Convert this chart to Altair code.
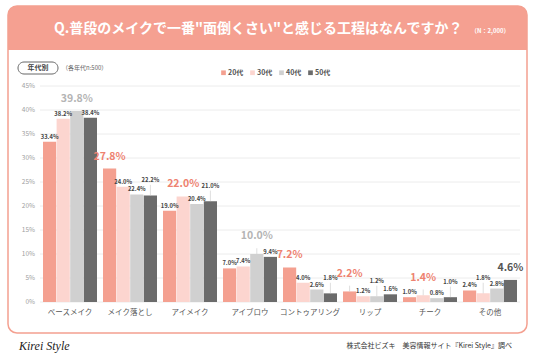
import altair as alt
import pandas as pd

categories = ["ベースメイク", "メイク落とし", "アイメイク", "アイブロウ", "コントゥアリング", "リップ", "チーク", "その他"]
series = ["20代", "30代", "40代", "50代"]
v20 = [33.4, 27.8, 19.0, 7.0, 7.2, 2.2, 1.0, 2.4]
v30 = [38.2, 24.0, 22.0, 7.4, 4.0, 1.2, 1.4, 1.8]
v40 = [39.8, 22.4, 20.4, 10.0, 2.6, 1.2, 0.8, 2.8]
v50 = [38.4, 22.2, 21.0, 9.4, 1.8, 1.6, 1.0, 4.6]
y_ticks = [0, 5, 10, 15, 20, 25, 30, 35, 40, 45]

title_text = "Q.普段のメイクで一番\"面倒くさい\"と感じる工程はなんですか？"
n_text = "（N：2,000）"
group_text = "年代別"
sub_text = "（各年代n:500）"
footer_text = "株式会社ビズキ　美容情報サイト『Kirei Style』調べ"
logo_text = "Kirei Style"

bar_colors = ["#f4a090", "#fcd5cf", "#d0d0d0", "#6b6b6b"]
big_colors = ["#ee8270", "#ee8270", "#b4b4b4", "#555555"]
FONT = "Noto Sans CJK JP"

rows = []
for s, vals in zip(series, [v20, v30, v40, v50]):
    for c, v in zip(categories, vals):
        rows.append({"cat": c, "series": s, "value": v})
df = pd.DataFrame(rows)
tick_df = pd.DataFrame({"t": y_ticks})
cat_df = pd.DataFrame({"cat": categories})

W, H = 480, 216

x_scale = alt.Scale(domain=categories, paddingInner=0.1, paddingOuter=0.05)
x_plain = alt.X("cat:N", sort=categories, title=None, scale=x_scale, axis=None)
xo_enc = alt.XOffset("series:N", sort=series, scale=alt.Scale(domain=series, paddingInner=0.03))
y_scale = alt.Scale(domain=[0, 45], nice=False)

CLOSE = 1.3
base = alt.Chart(df).transform_joinaggregate(
    maxv="max(value)", groupby=["cat"]
).transform_calculate(
    ismax="datum.value == datum.maxv ? 1 : 0"
).transform_window(
    window=[
        {"op": "lag", "field": "value", "param": 1, "as": "prev"},
        {"op": "lag", "field": "value", "param": 2, "as": "prev2"},
        {"op": "lead", "field": "value", "param": 1, "as": "next"},
        {"op": "lag", "field": "ismax", "param": 1, "as": "pmax"},
        {"op": "lag", "field": "ismax", "param": 2, "as": "p2max"},
        {"op": "lead", "field": "ismax", "param": 1, "as": "nmax"},
    ],
    groupby=["cat"], sort=[alt.SortField("series")]
).transform_calculate(
    c1=f"datum.prev != null && abs(datum.value - datum.prev) < {CLOSE} && datum.pmax == 0 && datum.ismax == 0 && datum.nmax != 1",
    c2=f"datum.prev2 != null && abs(datum.prev - datum.prev2) < {CLOSE} && datum.p2max == 0 && datum.pmax == 0",
    bigclose=f"datum.ismax == 1 && ((datum.prev != null && abs(datum.value - datum.prev) < {CLOSE}) || (datum.next != null && abs(datum.value - datum.next) < {CLOSE}))",
).transform_calculate(
    lift="datum.c1 && !datum.c2 ? 1 : 0"
).transform_calculate(
    ly="datum.value + datum.lift * 2.2",
    by="datum.value + (datum.bigclose ? 1.2 : 0)",
    label="format(datum.value, '.1f') + '%'"
)

one = pd.DataFrame({"a": [0]})

# decorations
frame = alt.Chart(one).mark_rect(fill="white", fillOpacity=0, stroke="#f4a090", strokeWidth=1.5,
                                 cornerRadius=9).encode(
    x=alt.value(-32), x2=alt.value(487), y=alt.value(-80), y2=alt.value(247))
band = alt.Chart(one).mark_rect(fill="#f5a091", cornerRadiusTopLeft=9, cornerRadiusTopRight=9).encode(
    x=alt.value(-32), x2=alt.value(487), y=alt.value(-80), y2=alt.value(-36))
title = alt.Chart(one).mark_text(text=title_text, font=FONT, fontSize=14, fontWeight="bold",
                                  color="white", align="left", baseline="middle").encode(
    x=alt.value(14), y=alt.value(-57))
ntext = alt.Chart(one).mark_text(text=n_text, font=FONT, fontSize=6, fontWeight="bold",
                                 color="white", align="left", baseline="middle").encode(
    x=alt.value(431), y=alt.value(-55))
pill = alt.Chart(one).mark_rect(fill="white", stroke="#666666", strokeWidth=1, cornerRadius=6).encode(
    x=alt.value(-22), x2=alt.value(18), y=alt.value(-24), y2=alt.value(-12))
pill_text = alt.Chart(one).mark_text(text=group_text, font=FONT, fontSize=7, fontWeight="bold",
                                     color="#444444", align="center", baseline="middle").encode(
    x=alt.value(-2), y=alt.value(-18))
sub = alt.Chart(one).mark_text(text=sub_text, font=FONT, fontSize=6, color="#666666",
                               align="left", baseline="middle").encode(
    x=alt.value(22), y=alt.value(-18))
footer = alt.Chart(one).mark_text(text=footer_text, font=FONT, fontSize=7, color="#333333",
                                  align="right", baseline="middle").encode(
    x=alt.value(472), y=alt.value(260))
logo = alt.Chart(one).mark_text(text=logo_text, font="Liberation Serif", fontSize=12,
                                fontStyle="italic", color="#222222",
                                align="left", baseline="middle").encode(
    x=alt.value(-21), y=alt.value(260))

# axes drawn from tick and category lists through the shared scales
grid = alt.Chart(tick_df).mark_rule(color="#ececec", strokeWidth=1).encode(
    y=alt.Y("t:Q", scale=y_scale, axis=None), x=alt.value(0), x2=alt.value(W))
ylabels = alt.Chart(tick_df).transform_calculate(tl="datum.t + '%'").mark_text(
    font=FONT, fontSize=6.5, color="#a0a0a0", align="right", baseline="middle").encode(
    y=alt.Y("t:Q", scale=y_scale, axis=None), x=alt.value(-5), text="tl:N")
xlabels = alt.Chart(cat_df).mark_text(
    font=FONT, fontSize=7.5, color="#555555", align="center", baseline="middle").encode(
    x=x_plain, y=alt.value(H + 11), text="cat:N")

bars = base.mark_bar().encode(
    x=x_plain, xOffset=xo_enc, y=alt.Y("value:Q", scale=y_scale, axis=None),
    color=alt.Color("series:N", sort=series,
                    scale=alt.Scale(domain=series, range=bar_colors),
                    legend=alt.Legend(title=None, orient="none", legendX=180, legendY=-17,
                                      direction="horizontal", symbolType="square", symbolSize=22,
                                      labelFontSize=7, labelFontWeight="bold", labelColor="#555555",
                                      labelFont=FONT, columnPadding=5, labelOffset=1,
                                      symbolStrokeWidth=0))
)

leaders = base.transform_filter("datum.lift == 1").mark_rule(color="#c8c8c8", strokeWidth=0.6).encode(
    x=x_plain, xOffset=xo_enc,
    y=alt.Y("value:Q", scale=y_scale, axis=None),
    y2=alt.Y2("ly:Q"))
big_leaders = base.transform_filter("datum.bigclose").mark_rule(color="#c8c8c8", strokeWidth=0.6).encode(
    x=x_plain, xOffset=xo_enc,
    y=alt.Y("value:Q", scale=y_scale, axis=None),
    y2=alt.Y2("by:Q"))

small = base.transform_filter("datum.ismax == 0").mark_text(
    font=FONT, fontSize=5.8, fontWeight="bold", color="#444444", baseline="bottom", dy=-2
).encode(x=x_plain, xOffset=xo_enc, y=alt.Y("ly:Q", scale=y_scale, axis=None), text="label:N")

big = base.transform_filter("datum.ismax == 1").mark_text(
    font=FONT, fontSize=10.5, fontWeight="bold", baseline="bottom", dy=-7
).encode(x=x_plain, xOffset=xo_enc, y=alt.Y("by:Q", scale=y_scale, axis=None), text="label:N",
         color=alt.Color("series:N", scale=alt.Scale(domain=series, range=big_colors), legend=None))

chart = alt.layer(grid, ylabels, xlabels, bars, band, title, ntext, pill, pill_text, sub, footer, logo,
                  leaders, big_leaders, small, big, frame).resolve_scale(color="independent").properties(
    width=W, height=H,
    padding={"left": 40, "top": 86, "right": 16, "bottom": 55},
    autosize=alt.AutoSizeParams(type="none"),
    background="white"
).configure_view(stroke=None)

chart.save("out.html", embed_options={"renderer": "svg", "actions": False})
